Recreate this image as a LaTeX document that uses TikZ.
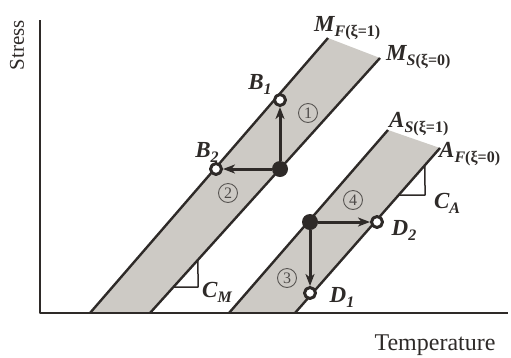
\documentclass[tikz,border=0pt]{standalone}
\usepackage{fontspec}
\setmainfont{Liberation Serif}
\usetikzlibrary{arrows.meta}
\definecolor{ink}{HTML}{2E2A28}
\definecolor{band}{HTML}{CDCAC5}
\newcommand{\mylab}[2]{{\fontsize{23}{23}\selectfont\bfseries\itshape #1\raisebox{-5pt}{\fontsize{16}{16}\selectfont #2}}}
\begin{document}
\begin{tikzpicture}[x=1pt,y=-1pt,line join=round,
  ln/.style={draw=ink,line width=2.4pt},
  arr/.style={draw=ink,line width=3pt,-{Stealth[length=12pt,width=9pt,inset=3.5pt]}},
  opn/.style={circle,draw=ink,fill=white,line width=3pt,minimum size=11pt,inner sep=0pt},
  fil/.style={circle,fill=ink,minimum size=16pt,inner sep=0pt},
  num/.style={circle,draw=ink!80,line width=0.9pt,minimum size=19pt,inner sep=0pt,text=ink!85,font=\fontsize{16}{16}\selectfont},
  lbl/.style={inner sep=0pt,text=ink},
  tri/.style={draw=ink,line width=1.5pt}]
\useasboundingbox (0,0) rectangle (511,357);
% axes
\coordinate (o) at (40,313);
\coordinate (ytop) at (40,20);
\coordinate (xend) at (508,313);
% band lines
\coordinate (mf0) at (90,313);  \coordinate (mf1) at (328,38);
\coordinate (ms0) at (150,313); \coordinate (ms1) at (380,58);
\coordinate (as0) at (229,313); \coordinate (as1) at (388,130);
\coordinate (af0) at (295,313); \coordinate (af1) at (440,148);
\fill[band] (mf0) -- (mf1) -- (ms1) -- (ms0) -- cycle;
\fill[band] (as0) -- (as1) -- (af1) -- (af0) -- cycle;
\draw[ln] (ytop) -- (o) -- (xend);
\draw[ln] (mf0) -- (mf1);
\draw[ln] (ms0) -- (ms1);
\draw[ln] (as0) -- (as1);
\draw[ln] (af0) -- (af1);
% slope triangles
\coordinate (cm1) at (intersection of ms0--ms1 and 0,287--10,287);
\coordinate (cm2) at (198,287);
\coordinate (cm3) at (intersection of ms0--ms1 and 198,0--198,10);
\draw[tri] (cm1) -- (cm2) -- (cm3);
\coordinate (ca1) at (intersection of af0--af1 and 0,195--10,195);
\coordinate (ca2) at (425,195);
\coordinate (ca3) at (intersection of af0--af1 and 425,0--425,10);
\draw[tri] (ca1) -- (ca2) -- (ca3);
% points
\node[fil] (b0) at (280,169) {};
\node[opn] (b1) at (280,100) {};
\node[opn] (b2) at (216,169) {};
\node[fil] (d0) at (310,222) {};
\node[opn] (d2) at (377,222) {};
\node[opn] (d1) at (310,293) {};
\draw[arr] (b0) -- (b1);
\draw[arr] (b0) -- (b2);
\draw[arr] (d0) -- (d2);
\draw[arr] (d0) -- (d1);
% circled numbers
\node[num] (n1) at (308,113) {1};
\node[num] (n2) at (228,193) {2};
\node[num] (n3) at (287,278) {3};
\node[num] (n4) at (353,200) {4};
% labels
\node[lbl,anchor=base west] (lmf) at (314,31) {\mylab{M}{\textit{F}\textup{(ξ=1)}}};
\node[lbl,anchor=base west] (lms) at (386,60) {\mylab{M}{\textit{S}\textup{(ξ=0)}}};
\node[lbl,anchor=base west] (las) at (389,127) {\mylab{A}{\textit{S}\textup{(ξ=1)}}};
\node[lbl,anchor=base west] (laf) at (439,157) {\mylab{A}{\textit{F}\textup{(ξ=0)}}};
\node[lbl] (lb1) at (260,84) {\mylab{B}{1}};
\node[lbl] (lb2) at (207,152) {\mylab{B}{2}};
\node[lbl] (ld2) at (404,230) {\mylab{D}{2}};
\node[lbl] (ld1) at (342,297) {\mylab{D}{1}};
\node[lbl] (lcm) at (217,292) {\mylab{C}{M}};
\node[lbl] (lca) at (447,203) {\mylab{C}{A}};
\node[lbl,rotate=90,font=\fontsize{21}{21}\selectfont] (stress) at (17,45) {Stress};
\node[lbl,anchor=base,font=\fontsize{24}{24}\selectfont] (temp) at (435,350) {Temperature};
\end{tikzpicture}
\end{document}
